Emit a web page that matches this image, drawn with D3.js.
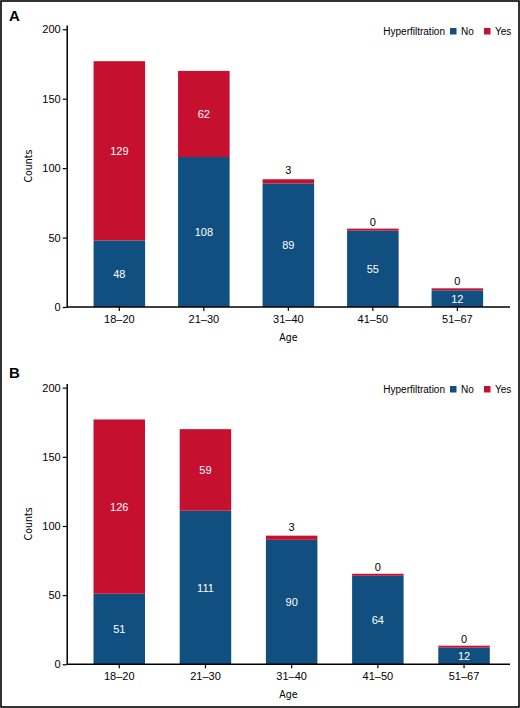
<!DOCTYPE html>
<html>
<head>
<meta charset="utf-8">
<script src="https://cdn.jsdelivr.net/npm/d3@7"></script>
<style>
  html, body { margin: 0; padding: 0; background: #fff; }
  svg text { font-family: "Liberation Sans", Arial, sans-serif; }
  .narrow { font-family: "Liberation Sans Narrow", "DejaVu Sans", sans-serif; font-stretch: condensed; }
</style>
</head>
<body>
<div id="chart"></div>
<script>
const ageGroups = ['18–20', '21–30', '31–40', '41–50', '51–67']
const seriesNames = ['No', 'Yes']
const noA = [48, 108, 89, 55, 12]
const yesA = [129, 62, 3, 0, 0]
const noB = [51, 111, 90, 64, 12]
const yesB = [126, 59, 3, 0, 0]
const yTicks = [0, 50, 100, 150, 200]

const colors = { No: '#114f81', Yes: '#c5112f' }

const width = 520
const height = 708

const svg = d3.select('#chart').append('svg')
  .attr('width', width)
  .attr('height', height)

svg.append('rect')
  .attr('x', 1).attr('y', 1)
  .attr('width', width - 2).attr('height', height - 2)
  .attr('fill', 'none')
  .attr('stroke', '#000')
  .attr('stroke-width', 1.6)

function panel(letter, no, yes, cfg) {
  const g = svg.append('g')
  const rows = ageGroups.map((a, i) => ({ age: a, No: no[i], Yes: yes[i] }))
  const stacked = d3.stack().keys(seriesNames)(rows)

  const x = d3.scaleBand()
    .domain(ageGroups)
    .range([cfg.left, cfg.bandEnd])
    .paddingInner(cfg.padIn)
    .paddingOuter(cfg.padOut)

  const y = d3.scaleLinear()
    .domain([0, 203])
    .range([cfg.bottom, cfg.top])

  // bars
  stacked.forEach(layer => {
    g.append('g')
      .selectAll('rect')
      .data(layer)
      .join('rect')
      .attr('x', d => x(d.data.age))
      .attr('width', x.bandwidth())
      .attr('y', d => d[1] === d[0] ? y(d[1]) - 2 : y(d[1]))
      .attr('height', d => d[1] === d[0] ? 2 : y(d[0]) - y(d[1]))
      .attr('fill', colors[layer.key])
  })

  // value labels
  stacked.forEach(layer => {
    g.append('g')
      .selectAll('text')
      .data(layer)
      .join('text')
      .attr('x', d => x(d.data.age) + x.bandwidth() / 2)
      .attr('y', d => {
        const h = y(d[0]) - y(d[1])
        if (h < 16) return y(d[1]) - 5
        return (y(d[0]) + y(d[1])) / 2 + 4
      })
      .attr('text-anchor', 'middle')
      .attr('font-size', 11)
      .attr('fill', d => (y(d[0]) - y(d[1]) < 16) ? '#000' : '#fff')
      .text(d => d[1] - d[0])
  })

  // y axis
  g.append('g')
    .attr('transform', `translate(${cfg.left},0)`)
    .call(d3.axisLeft(y).tickValues(yTicks).tickSize(4).tickPadding(2).tickSizeOuter(0))
    .call(a => a.selectAll('text').attr('font-size', 11).attr('fill', '#000'))
    .call(a => a.select('.domain').attr('stroke-width', 1.5))
    .call(a => a.selectAll('.tick line').attr('stroke-width', 1.2))

  // x axis
  g.append('g')
    .attr('transform', `translate(0,${cfg.bottom})`)
    .call(d3.axisBottom(x).tickSize(4).tickPadding(4).tickSizeOuter(0))
    .call(a => a.select('.domain').remove())
    .call(a => a.selectAll('text').attr('font-size', 11).attr('fill', '#000'))
    .call(a => a.selectAll('.tick line').attr('stroke-width', 1.2))

  g.append('line')
    .attr('x1', cfg.left).attr('x2', cfg.right)
    .attr('y1', cfg.bottom).attr('y2', cfg.bottom)
    .attr('stroke', '#000')
    .attr('stroke-width', 1.5)

  // axis titles
  g.append('text')
    .attr('class', 'narrow')
    .attr('transform', `translate(32,${(cfg.top + cfg.bottom) / 2}) rotate(-90)`)
    .attr('text-anchor', 'middle')
    .attr('font-size', 10.5)
    .text('Counts')

  g.append('text')
    .attr('class', 'narrow')
    .attr('x', (cfg.left + cfg.right) / 2)
    .attr('y', cfg.bottom + 34)
    .attr('text-anchor', 'middle')
    .attr('font-size', 10.5)
    .text('Age')

  // panel letter
  g.append('text')
    .attr('x', 9)
    .attr('y', cfg.letterY)
    .attr('font-size', 15)
    .attr('font-weight', 'bold')
    .text(letter)

  // legend
  const lg = g.append('g').attr('transform', `translate(0,${cfg.legendY})`)
  lg.append('text')
    .attr('x', 445).attr('y', 4)
    .attr('text-anchor', 'end')
    .attr('font-size', 10)
    .text('Hyperfiltration')
  const lx = { No: 450, Yes: 484 }
  seriesNames.forEach(s => {
    lg.append('rect')
      .attr('x', lx[s]).attr('y', -3)
      .attr('width', 6.5).attr('height', 6.5)
      .attr('fill', colors[s])
    lg.append('text')
      .attr('x', lx[s] + 11).attr('y', 4)
      .attr('font-size', 10)
      .text(s)
  })
}

panel('A', noA, yesA, {
  left: 66.7, right: 510, bandEnd: 510, padIn: 0.39, padOut: 0.318,
  top: 25.1, bottom: 307, letterY: 21, legendY: 31
})

panel('B', noB, yesB, {
  left: 66.7, right: 510, bandEnd: 516.6, padIn: 0.4025, padOut: 0.311,
  top: 383.5, bottom: 664.3, letterY: 378, legendY: 389
})
</script>
</body>
</html>
